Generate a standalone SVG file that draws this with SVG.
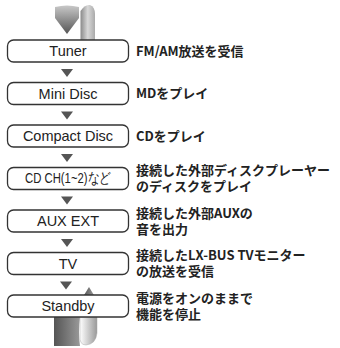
<svg xmlns="http://www.w3.org/2000/svg" width="340" height="348" viewBox="0 0 340 348">
<style>
.box{fill:#fff;stroke:#333;stroke-width:1.3}
.bt{font-family:"Liberation Sans",Arial,sans-serif;font-size:14.5px;fill:#222;text-anchor:middle}
.lb{font-family:"Noto Sans CJK JP","Noto Sans",sans-serif;font-size:13px;font-weight:bold;fill:#222}
.tri{fill:#555}
</style>
<defs>
<linearGradient id="gL" x1="0" y1="0" x2="0" y2="1"><stop offset="0" stop-color="#c8c8c8"/><stop offset="1" stop-color="#555"/></linearGradient>
<linearGradient id="gR" x1="0" y1="0" x2="1" y2="0"><stop offset="0" stop-color="#8a8a8a"/><stop offset="0.5" stop-color="#d8d8d8"/><stop offset="1" stop-color="#aaa"/></linearGradient>
<linearGradient id="gD" x1="0" y1="0" x2="1" y2="0"><stop offset="0" stop-color="#555"/><stop offset="1" stop-color="#999"/></linearGradient>
<linearGradient id="gW" x1="0" y1="0" x2="1" y2="0"><stop offset="0" stop-color="#fff"/><stop offset="1" stop-color="#999"/></linearGradient>
<linearGradient id="gU" x1="0" y1="0" x2="1" y2="0"><stop offset="0" stop-color="#444"/><stop offset="1" stop-color="#aaa"/></linearGradient>
</defs>
<g id="connectors">
<path d="M55,7 Q67,4 79,7 L79,18 L67,34 L55,18 Z" fill="url(#gL)"/>
<path d="M80.5,11 Q85,4 90,5 Q95,7 95,14 L95,41 L80.5,41 Z" fill="url(#gR)"/>
<path class="tri" d="M61,69 L73,69 L67,77 Z"/>
<path class="tri" d="M61,111.5 L73,111.5 L67,119.5 Z"/>
<path class="tri" d="M61,154 L73,154 L67,162 Z"/>
<path class="tri" d="M61,196.5 L73,196.5 L67,204.5 Z"/>
<path class="tri" d="M61,239 L73,239 L67,247 Z"/>
<path class="tri" d="M60,281.5 L72,281.5 L66,289.5 Z"/>
<path d="M81,300 L89,287 L97,300 Z" fill="url(#gU)"/>
<path d="M54,317 L80,317 Q78,332 80,346 L54,346 Z" fill="url(#gD)"/>
<path d="M80,317 L97,317 L97,333 Q96,344 86,345 Q79,345 80,335 Z" fill="url(#gW)" stroke="#aaa" stroke-width="0.5"/>
</g>
<g id="n-tuner"><rect class="box" x="7.5" y="40" width="121" height="22" rx="6"/><text class="bt" x="68" y="56">Tuner</text><text class="lb" x="136" y="55.5">FM/AM放送を受信</text></g>
<g id="n-md"><rect class="box" x="7.5" y="82.5" width="121" height="22" rx="6"/><text class="bt" x="68" y="98.5">Mini Disc</text><text class="lb" x="136" y="98">MDをプレイ</text></g>
<g id="n-cd"><rect class="box" x="7.5" y="125" width="121" height="22" rx="6"/><text class="bt" x="68" y="141">Compact Disc</text><text class="lb" x="136" y="140.5">CDをプレイ</text></g>
<g id="n-cdch"><rect class="box" x="7.5" y="167.5" width="121" height="22" rx="6"/><text class="bt" x="68" y="183" font-size="12" textLength="86" lengthAdjust="spacingAndGlyphs">CD CH(1~2)など</text><text class="lb"><tspan x="136" y="175">接続した外部ディスクプレーヤー</tspan><tspan x="136" y="191">のディスクをプレイ</tspan></text></g>
<g id="n-aux"><rect class="box" x="7.5" y="210" width="121" height="22" rx="6"/><text class="bt" x="68" y="226">AUX EXT</text><text class="lb"><tspan x="136" y="217.5">接続した外部AUXの</tspan><tspan x="136" y="233.5">音を出力</tspan></text></g>
<g id="n-tv"><rect class="box" x="7.5" y="252.5" width="121" height="22" rx="6"/><text class="bt" x="68" y="268.5">TV</text><text class="lb"><tspan x="136" y="260">接続したLX-BUS TVモニター</tspan><tspan x="136" y="276">の放送を受信</tspan></text></g>
<g id="n-standby"><rect class="box" x="7.5" y="295" width="121" height="22" rx="6"/><text class="bt" x="68" y="311">Standby</text><text class="lb"><tspan x="136" y="302.5">電源をオンのままで</tspan><tspan x="136" y="318.5">機能を停止</tspan></text></g>
</svg>
